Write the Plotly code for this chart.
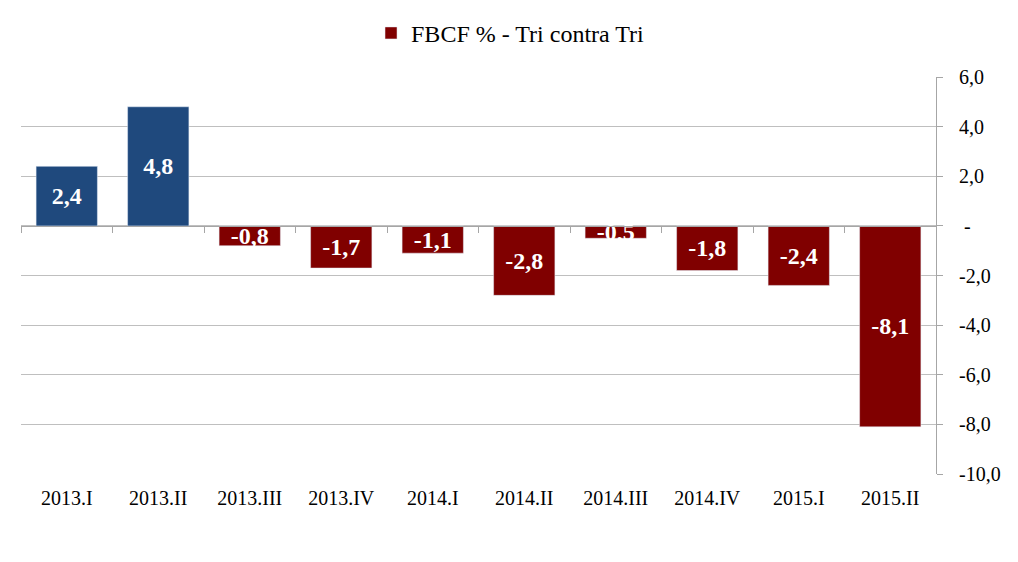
import plotly.graph_objects as go

quarters = ["2013.I", "2013.II", "2013.III", "2013.IV", "2014.I",
            "2014.II", "2014.III", "2014.IV", "2015.I", "2015.II"]
values = [2.4, 4.8, -0.8, -1.7, -1.1, -2.8, -0.5, -1.8, -2.4, -8.1]
series_name = "FBCF % - Tri contra Tri"
y_ticks = [-10, -8, -6, -4, -2, 0, 2, 4, 6]
y_ticktext = ["-10,0", "-8,0", "-6,0", "-4,0", "-2,0", " -", "2,0", "4,0", "6,0"]

BLUE = "#1F497D"
RED = "#800000"
FONT = "Liberation Serif"

def fmt(v):
    return f"{v:.1f}".replace(".", ",")

pos_x = [q for q, v in zip(quarters, values) if v >= 0]
pos_y = [v for v in values if v >= 0]
neg_x = [q for q, v in zip(quarters, values) if v < 0]
neg_y = [v for v in values if v < 0]

fig = go.Figure()
fig.add_trace(go.Bar(
    x=pos_x, y=pos_y, marker_color=BLUE, showlegend=False,
    text=[fmt(v) for v in pos_y], textposition="inside",
    insidetextanchor="middle", constraintext="none",
    textfont=dict(family=FONT, size=24, color="white", weight="bold"),
    name=series_name,
))
fig.add_trace(go.Bar(
    x=neg_x, y=neg_y, marker_color=RED, showlegend=True,
    text=[fmt(v) for v in neg_y], textposition="inside",
    insidetextanchor="middle", constraintext="none",
    textfont=dict(family=FONT, size=24, color="white", weight="bold"),
    name=series_name,
))

fig.update_layout(
    width=1018, height=562,
    margin=dict(l=13, r=90, t=69, b=96, autoexpand=False),
    paper_bgcolor="white", plot_bgcolor="white",
    barmode="relative", bargap=0.33,
    font=dict(family=FONT, size=20, color="black"),
    showlegend=True,
    legend=dict(orientation="h", x=0.535, xanchor="center", y=1.11,
                yanchor="middle", font=dict(size=24, family=FONT),
                itemwidth=30),
    xaxis=dict(
        type="category", categoryorder="array", categoryarray=quarters,
        range=[-0.5, 9.5],
        anchor="free", position=10 / 16,
        showline=True, linecolor="#A6A6A6", linewidth=1,
        ticks="outside", tickson="boundaries", ticklen=6, tickcolor="#A6A6A6",
        ticklabelstandoff=254,
        showgrid=False, zeroline=False,
        tickfont=dict(family=FONT, size=20, color="black"),
    ),
    yaxis=dict(
        side="right", range=[-10, 6], tickmode="array",
        tickvals=y_ticks, ticktext=y_ticktext,
        showline=True, linecolor="#A6A6A6", linewidth=1,
        ticks="outside", ticklen=6, tickcolor="#A6A6A6",
        showgrid=True, gridcolor="#BFBFBF", gridwidth=1,
        zeroline=False,
        ticklabelstandoff=12,
        tickfont=dict(family=FONT, size=20, color="black"),
    ),
)

fig.write_html("out.html")
